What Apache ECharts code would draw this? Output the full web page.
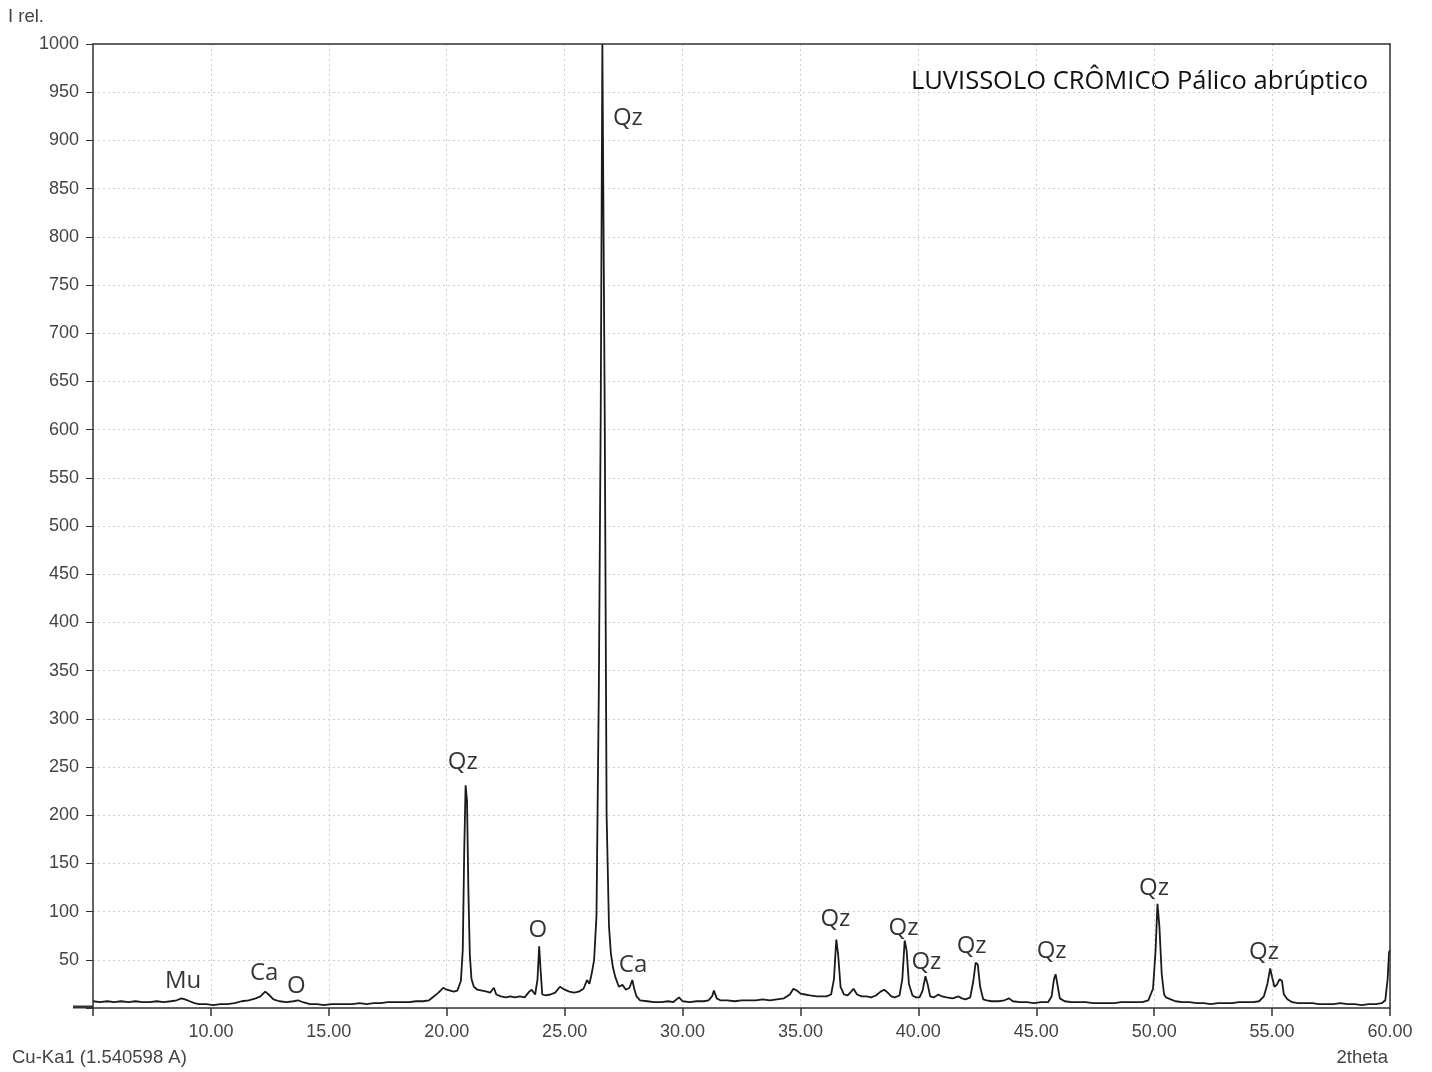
<!DOCTYPE html>
<html>
<head>
<meta charset="utf-8">
<script src="https://cdn.jsdelivr.net/npm/echarts@6/dist/echarts.min.js"></script>
<style>
html,body{margin:0;padding:0;background:#fff;}
#chart{width:1432px;height:1072px;}
</style>
</head>
<body>
<div id="chart"></div>
<script>
// 2theta positions (degrees)
const twoTheta = [
5.0,5.3,5.6,5.9,6.2,6.5,6.8,7.1,7.4,7.7,8.0,8.3,8.55,8.75,8.9,9.1,9.3,9.5,9.8,10.1,
10.4,10.7,11.0,11.3,11.6,11.9,12.1,12.3,12.45,12.65,12.9,13.2,13.5,13.7,13.9,14.2,14.5,14.8,15.1,15.4,
15.7,16.0,16.3,16.6,16.9,17.2,17.5,17.8,18.1,18.4,18.7,19.0,19.25,19.45,19.65,19.85,20.0,20.15,20.3,20.45,
20.6,20.68,20.74,20.8,20.86,20.92,20.98,21.05,21.15,21.3,21.5,21.7,21.85,22.0,22.1,22.3,22.5,22.7,22.9,23.1,
23.3,23.5,23.6,23.75,23.85,23.92,23.98,24.05,24.2,24.4,24.6,24.8,25.0,25.2,25.4,25.6,25.8,25.95,26.05,26.15,
26.25,26.35,26.45,26.53,26.6,26.65,26.7,26.78,26.88,26.96,27.05,27.15,27.3,27.45,27.6,27.75,27.87,27.95,28.05,28.2,
28.5,28.8,29.1,29.4,29.6,29.85,30.0,30.3,30.6,30.9,31.1,31.25,31.33,31.45,31.6,31.9,32.2,32.5,32.8,33.1,
33.4,33.7,34.0,34.3,34.55,34.7,34.85,35.0,35.2,35.4,35.7,35.9,36.1,36.3,36.42,36.52,36.6,36.7,36.85,37.0,
37.15,37.25,37.4,37.6,37.8,38.0,38.2,38.4,38.55,38.7,38.85,39.0,39.2,39.32,39.42,39.5,39.6,39.75,39.9,40.05,
40.18,40.3,40.4,40.5,40.65,40.85,41.0,41.2,41.45,41.7,41.85,42.0,42.2,42.33,42.43,42.52,42.62,42.75,42.9,43.1,
43.4,43.65,43.85,44.0,44.3,44.6,44.9,45.2,45.5,45.65,45.75,45.82,45.9,46.0,46.2,46.5,46.8,47.1,47.4,47.7,
48.0,48.3,48.6,48.9,49.2,49.5,49.75,49.95,50.06,50.14,50.22,50.32,50.42,50.5,50.7,50.9,51.2,51.5,51.8,52.1,
52.4,52.7,53.0,53.3,53.6,53.9,54.2,54.45,54.65,54.8,54.92,55.0,55.1,55.2,55.32,55.42,55.5,55.65,55.85,56.1,
56.4,56.7,57.0,57.3,57.6,57.9,58.2,58.5,58.8,59.1,59.4,59.65,59.8,59.9,59.96,60.0
];
// relative intensity
const intensity = [
7,6,7,6,7,6,7,6,6,7,6,7,8,10,9,7,5,4,4,3,
4,4,5,7,8,10,12,17,14,9,7,6,7,8,6,4,4,3,4,4,
4,4,5,4,5,5,6,6,6,6,7,7,8,12,16,21,19,18,17,18,
28,60,160,231,215,120,55,30,22,19,18,17,16,21,14,12,11,12,11,12,
11,17,19,14,30,64,40,14,13,14,16,22,19,17,16,17,20,29,25,36,
50,95,330,615,1000,1000,615,200,85,57,42,32,22,24,19,21,29,20,12,8,
7,6,6,7,6,11,7,6,7,7,8,12,18,10,8,8,7,8,8,8,
9,8,9,10,14,20,18,15,14,13,12,12,12,14,30,71,55,22,14,13,
17,20,14,12,12,11,13,17,19,16,12,11,13,30,70,60,25,13,11,11,
18,33,24,12,11,14,12,11,10,12,10,9,11,28,47,45,22,9,8,7,
7,8,10,7,6,6,5,6,6,12,30,35,24,10,7,6,6,6,5,5,
5,5,6,6,6,6,8,20,60,108,85,35,14,11,9,7,6,6,5,5,
4,5,5,5,6,6,6,7,12,25,41,32,22,24,30,28,14,9,6,5,
5,5,4,4,4,5,4,4,3,4,4,5,8,30,58,60
];
// phase annotations
const peakLabels = ['Qz','Qz','O','Ca','Mu','Ca','O','Qz','Qz','Qz','Qz','Qz','Qz','Qz'];
const labelX = [27.68,20.68,23.86,27.9,8.82,12.26,13.62,36.48,39.37,40.34,42.26,45.65,49.99,54.66];
const labelY = [923,255,81,44,28,36,23,92,83,48,64,59,124,58];
const xTicksMin = 5, xTicksMax = 60, xStep = 5;
const yMin = 0, yMax = 1000, yStep = 50;
const titleText = 'LUVISSOLO CRÔMICO Pálico abrúptico';

const lineData = twoTheta.map((t, i) => [t, intensity[i]]);
const labelData = peakLabels.map((n, i) => ({name: n, value: [labelX[i], labelY[i]]}));

const axisFont = 'Liberation Sans, Arial, sans-serif';
const annFont = 'Open Sans, sans-serif';
const borderLine = {show: true, onZero: false, lineStyle: {color: '#333', width: 1.5}};

const chart = echarts.init(document.getElementById('chart'), null, {renderer: 'canvas'});
chart.setOption({
  backgroundColor: '#ffffff',
  animation: false,
  grid: {left: 93, right: 42, top: 44, bottom: 64},
  xAxis: [{
    type: 'value', min: xTicksMin, max: xTicksMax, interval: xStep,
    axisLine: {show: true, onZero: false, lineStyle: {color: '#333', width: 1.5}},
    axisTick: {show: true, length: 8, lineStyle: {color: '#333', width: 1.5}},
    axisLabel: {color: '#444', fontFamily: axisFont, fontSize: 18, margin: 15,
      formatter: v => v === xTicksMin ? '' : v.toFixed(2)},
    splitLine: {show: true, lineStyle: {color: '#cfcfcf', type: [2, 3], width: 1}}
  }, {
    type: 'value', position: 'top', min: xTicksMin, max: xTicksMax, z: 5,
    axisLine: borderLine, axisTick: {show: false}, axisLabel: {show: false}, splitLine: {show: false}
  }],
  yAxis: [{
    type: 'value', min: yMin, max: yMax, interval: yStep,
    axisLine: {show: true, onZero: false, lineStyle: {color: '#333', width: 1.5}},
    axisTick: {show: true, length: 7, lineStyle: {color: '#333', width: 1}},
    axisLabel: {color: '#444', fontFamily: axisFont, fontSize: 18, margin: 14,
      formatter: v => v === 0 ? '' : String(v)},
    splitLine: {show: true, lineStyle: {color: '#cfcfcf', type: [2, 3], width: 1}}
  }, {
    type: 'value', position: 'right', min: yMin, max: yMax, z: 5,
    axisLine: borderLine, axisTick: {show: false}, axisLabel: {show: false}, splitLine: {show: false}
  }],
  series: [
    {
      type: 'line', data: lineData, showSymbol: false, symbol: 'none',
      lineStyle: {color: '#1a1a1a', width: 1.8}, clip: true, z: 3
    },
    {
      type: 'scatter', data: labelData, symbolSize: 1,
      itemStyle: {color: 'transparent'},
      label: {show: true, position: 'inside', formatter: '{b}', color: '#000',
        fontFamily: annFont, fontSize: 24},
      z: 4, silent: true
    }
  ],
  graphic: [
    {type: 'text', left: 8, top: 7, style: {text: 'I rel.', fill: '#444', font: '18.5px ' + axisFont}},
    {type: 'text', left: 12, top: 1048, style: {text: 'Cu-Ka1 (1.540598 A)', fill: '#444', font: '18.5px ' + axisFont}},
    {type: 'text', right: 44, top: 1048, style: {text: '2theta', fill: '#444', font: '18.5px ' + axisFont}},
    {type: 'text', right: 64, top: 69, style: {text: titleText, fill: '#111', font: '25.5px ' + annFont}},
    {type: 'line', shape: {x1: 73, y1: 1007, x2: 93, y2: 1007}, style: {stroke: '#333', lineWidth: 3}}
  ]
});
</script>
</body>
</html>
